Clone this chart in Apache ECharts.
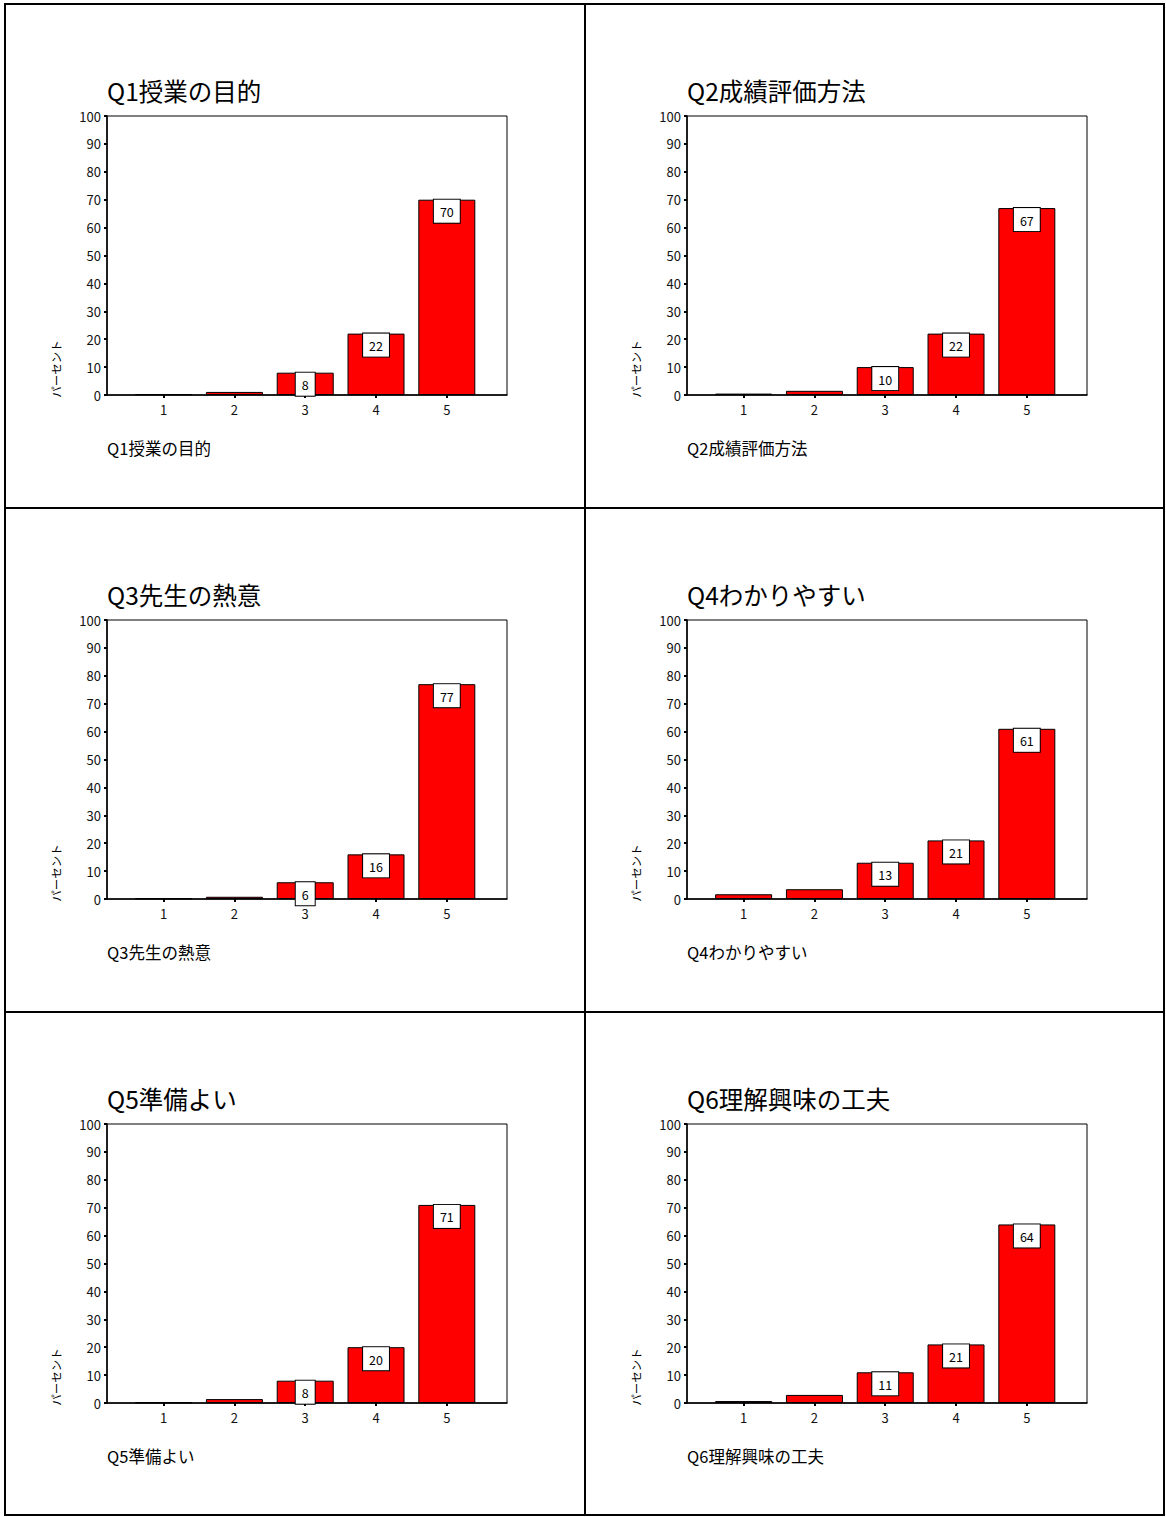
<!DOCTYPE html>
<html>
<head>
<meta charset="utf-8">
<title>授業アンケート集計</title>
<script src="https://cdn.jsdelivr.net/npm/echarts@6/dist/echarts.min.js"></script>
<style>
  html, body { margin: 0; padding: 0; background: #fff; }
  #chart { width: 1166px; height: 1517px; }
</style>
</head>
<body>
<div id="chart"></div>
<script>
// Response scale (1 = lowest, 5 = highest)
const categories = [1, 2, 3, 4, 5];

// Question titles
const titles = [
  'Q1授業の目的',
  'Q2成績評価方法',
  'Q3先生の熱意',
  'Q4わかりやすい',
  'Q5準備よい',
  'Q6理解興味の工夫'
];

// Percentage of responses per scale point
const q1 = [0.3, 1.1, 8, 22, 70];
const q2 = [0.5, 1.5, 10, 22, 67];
const q3 = [0.2, 0.8, 6, 16, 77];
const q4 = [1.7, 3.5, 13, 21, 61];
const q5 = [0.2, 1.4, 8, 20, 71];
const q6 = [0.7, 2.9, 11, 21, 64];
const seriesValues = [q1, q2, q3, q4, q5, q6];

const yAxisName = 'パーセント';

const FONT = '"Noto Sans CJK JP", "Noto Sans", sans-serif';
const PANEL_W = 580, PANEL_H = 504;
const GRID_W = 400, GRID_H = 279;

const chart = echarts.init(document.getElementById('chart'), null, { renderer: 'svg' });

const grid = [], xAxis = [], yAxis = [], series = [], title = [], graphic = [];

seriesValues.forEach((vals, i) => {
  const col = i % 2, row = Math.floor(i / 2);
  const ox = 107 + col * PANEL_W;
  const oy = 116 + row * PANEL_H;

  grid.push({
    left: ox, top: oy, width: GRID_W, height: GRID_H,
    show: true, backgroundColor: '#fff', borderColor: '#000', borderWidth: 1
  });

  xAxis.push({
    type: 'value', gridIndex: i, min: 0.2, max: 5.85,
    axisLine: { show: true, onZero: false, lineStyle: { color: '#000', width: 1.5 } },
    axisTick: { show: true, customValues: categories, length: 3, lineStyle: { color: '#000', width: 2 } },
    axisLabel: { show: true, customValues: categories, margin: 8, fontSize: 13, color: '#111', fontFamily: FONT },
    splitLine: { show: false }
  });

  yAxis.push({
    type: 'value', gridIndex: i, min: 0, max: 100, interval: 10,
    axisLine: { show: true, lineStyle: { color: '#000', width: 1.5 } },
    axisTick: { show: true, length: 3, lineStyle: { color: '#000', width: 2 } },
    axisLabel: { margin: 6, fontSize: 13, color: '#111', fontFamily: FONT },
    splitLine: { show: false }
  });

  series.push({
    type: 'bar', xAxisIndex: i, yAxisIndex: i,
    barWidth: 57,
    itemStyle: { color: '#ff0000', borderColor: '#000', borderWidth: 1 },
    label: {
      position: 'insideTop', distance: 0,
      formatter: p => String(p.value[1]),
      fontSize: 12.5, color: '#000', fontFamily: FONT, lineHeight: 14,
      backgroundColor: '#fff', borderColor: '#000', borderWidth: 1,
      padding: [5, 6, 4, 6]
    },
    data: categories.map((c, k) => ({
      value: [c, vals[k]],
      label: { show: vals[k] >= 5 }
    }))
  });

  // panel heading
  title.push({
    text: titles[i], left: ox, top: oy - 38, padding: 0,
    textStyle: { fontSize: 24.5, fontWeight: 'normal', color: '#000', fontFamily: FONT }
  });
  // caption under the axis
  title.push({
    text: titles[i], left: ox, top: oy + 324, padding: 0,
    textStyle: { fontSize: 16.5, fontWeight: 'normal', color: '#000', fontFamily: FONT }
  });

  // rotated y-axis name
  graphic.push({
    type: 'text', x: ox - 51, y: oy + 253, rotation: Math.PI / 2,
    style: {
      text: yAxisName, fontSize: 11.5, fill: '#000', fontFamily: FONT,
      textAlign: 'center', textVerticalAlign: 'middle'
    }
  });
});

// outer frame and panel dividers
const frameStyle = { stroke: '#000', lineWidth: 2, fill: 'none' };
graphic.push({ type: 'rect', shape: { x: 5, y: 4, width: 1159, height: 1511 }, style: frameStyle, z: 100 });
graphic.push({ type: 'line', shape: { x1: 585, y1: 4, x2: 585, y2: 1515 }, style: frameStyle, z: 100 });
graphic.push({ type: 'line', shape: { x1: 5, y1: 508, x2: 1164, y2: 508 }, style: frameStyle, z: 100 });
graphic.push({ type: 'line', shape: { x1: 5, y1: 1012, x2: 1164, y2: 1012 }, style: frameStyle, z: 100 });

chart.setOption({
  animation: false,
  backgroundColor: '#fff',
  title, grid, xAxis, yAxis, series, graphic
});
</script>
</body>
</html>
